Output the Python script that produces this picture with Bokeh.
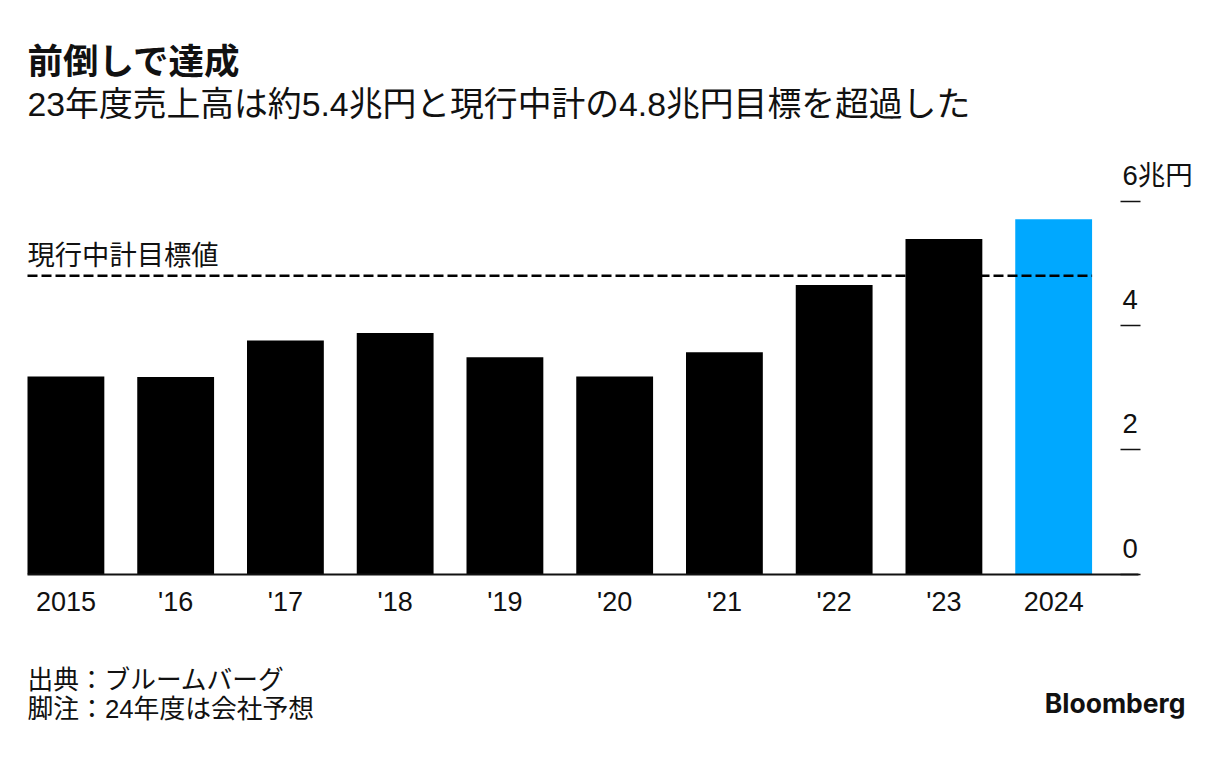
from bokeh.plotting import figure
from bokeh.models import ColumnDataSource, Range1d, FixedTicker, Label, LinearAxis, Segment, Text
from bokeh.core.properties import value
from bokeh.embed import file_html
from bokeh.resources import INLINE

years = ["2015", "'16", "'17", "'18", "'19", "'20", "'21", "'22", "'23", "2024"]
revenue = [3.18, 3.17, 3.76, 3.88, 3.49, 3.18, 3.57, 4.65, 5.39, 5.71]
bar_colors = ["#000000"] * 9 + ["#00A8FF"]
target = 4.8
target_label = "現行中計目標値"
y_ticks = [0, 2, 4, 6]
y_tick_labels = ["0", "2", "4", "6兆円"]
title = "前倒しで達成"
subtitle = "23年度売上高は約5.4兆円と現行中計の4.8兆円目標を超過した"
source_note = "出典：ブルームバーグ"
foot_note = "脚注：24年度は会社予想"
brand = "Bloomberg"

FONT = "'Liberation Sans', 'Noto Sans CJK JP'"
INK = "#111111"
W, H = 1207, 748
PX_X, PX_Y = 109.75, 62.17      # pixels per category / per trillion yen
BAR_W = 0.7
LEFT_PX, BASE_PX, RIGHT_PX = 27, 573.7, 1138
XL = -BAR_W / 2 - LEFT_PX / PX_X
XR = XL + W / PX_X
AXIS_END = XL + RIGHT_PX / PX_X
YT = BASE_PX / PX_Y
YB = YT - H / PX_Y

p = figure(width=W, height=H, output_backend="svg", toolbar_location=None,
           x_range=Range1d(XL, XR), y_range=Range1d(YB, YT),
           min_border=0, outline_line_color=None,
           background_fill_color="white", border_fill_color="white")
p.grid.visible = False

xs = list(range(len(years)))
src = ColumnDataSource(dict(x=xs, top=revenue, color=bar_colors))
p.vbar(x="x", top="top", bottom=0, width=BAR_W, color="color", source=src, line_color=None)

# target line + label
tsrc = ColumnDataSource(dict(x0=[-BAR_W / 2], x1=[xs[-1] + BAR_W / 2], y=[target], label=[target_label]))
p.add_glyph(tsrc, Segment(x0="x0", x1="x1", y0="y", y1="y", line_color="black", line_width=2.4, line_dash=[10, 4]))
p.add_glyph(tsrc, Text(x="x0", y="y", text="label", y_offset=-20,
       text_font=value(FONT), text_font_size="27.3px", text_color=INK,
       text_align="left", text_baseline="alphabetic"))

# x axis, placed on y = 0 inside the full-canvas frame
xa = p.xaxis[0]
xa.fixed_location = 0
xa.bounds = (-BAR_W / 2, AXIS_END)
xa.ticker = FixedTicker(ticks=xs)
xa.major_label_overrides = dict(zip(xs, years))
xa.major_tick_line_color = None
xa.minor_tick_line_color = None
xa.axis_line_color = INK
xa.axis_line_width = 2
xa.major_label_standoff = 7
xa.major_label_text_font = FONT
xa.major_label_text_font_size = "27px"
xa.major_label_text_color = INK

# right axis: tick dashes only, labels sit above the dashes
p.yaxis.visible = False
ya = LinearAxis(ticker=FixedTicker(ticks=y_ticks), fixed_location=AXIS_END)
ya.major_label_overrides = {t: "" for t in y_ticks}
ya.axis_line_color = None
ya.minor_tick_line_color = None
ya.major_tick_in = 18
ya.major_tick_out = 2
ya.major_tick_line_color = INK
ya.major_tick_line_width = 1.5
p.add_layout(ya, "right")
ysrc = ColumnDataSource(dict(x=[AXIS_END] * len(y_ticks), y=y_ticks, t=y_tick_labels))
p.add_glyph(ysrc, Text(x="x", y="y", text="t", x_offset=-16, y_offset=-26,
       text_font=value(FONT), text_font_size="27.5px", text_color=INK,
       text_align="left", text_baseline="alphabetic"))

def label(txt, x, y, size, bold=False, font=FONT, align="left"):
    p.add_layout(Label(x=x, y=H - y, x_units="screen", y_units="screen", text=txt,
                       text_font=font, text_font_size=size, text_color=INK,
                       text_font_style="bold" if bold else "normal",
                       text_align=align, text_baseline="alphabetic"))

label(title, 27, 61, "35.5px", bold=True)
label(subtitle, 27, 103, "33.8px")
label(source_note, 27, 679, "25.7px")
label(foot_note, 27, 708, "25.8px")
label(brand, 1185, 702, "26.5px", bold=True, font="Inter", align="right")

open("out.html", "w").write(file_html(p, INLINE))
